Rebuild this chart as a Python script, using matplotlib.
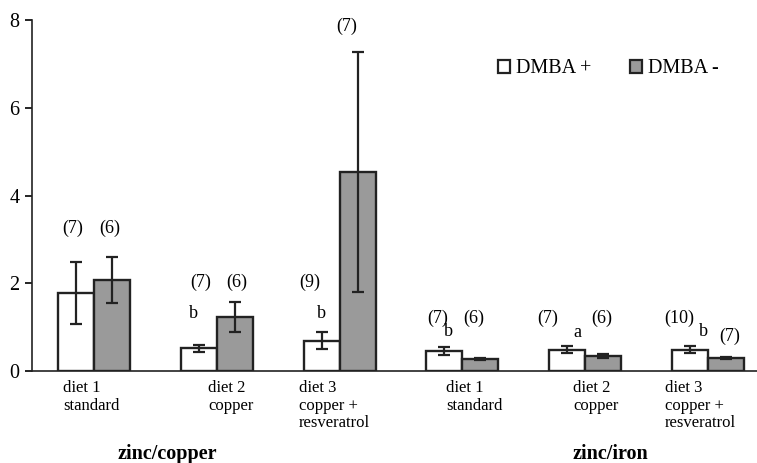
import numpy as np
import matplotlib
matplotlib.use('Agg')
import matplotlib.pyplot as plt
from matplotlib.patches import Patch

plt.rcParams['font.family'] = ['Liberation Serif', 'DejaVu Serif']

# data
diet_labels = ['diet 1\nstandard', 'diet 2\ncopper', 'diet 3\ncopper +\nresveratrol',
               'diet 1\nstandard', 'diet 2\ncopper', 'diet 3\ncopper +\nresveratrol']
groups = ['zinc/copper', 'zinc/iron']
dmba_plus = [1.77, 0.52, 0.69, 0.46, 0.49, 0.49]
dmba_plus_err = [0.71, 0.08, 0.19, 0.09, 0.09, 0.09]
dmba_minus = [2.07, 1.24, 4.53, 0.27, 0.34, 0.30]
dmba_minus_err = [0.52, 0.34, 2.74, 0.03, 0.05, 0.03]
n_plus = ['(7)', '(7)', '(9)', '(7)', '(7)', '(10)']
n_minus = ['(6)', '(6)', '(7)', '(6)', '(6)', '(7)']
letters = ['', 'b', 'b', 'b', 'a', 'b']

# layout of the annotations
n_plus_y = [3.26, 2.03, 2.03, 1.20, 1.20, 1.20]
n_minus_y = [3.26, 2.03, 7.86, 1.20, 1.20, 0.78]
letter_y = [0, 1.3, 1.3, 0.89, 0.87, 0.89]
n_plus_dx = [-0.025, 0.018, -0.094, -0.052, -0.156, -0.09]
n_minus_dx = [-0.016, 0.018, -0.086, -0.052, -0.01, 0.033]
letter_dx = [0, -0.047, 0.003, 0.037, 0.08, 0.114]
label_dx = [-0.252, -0.072, -0.331, -0.134, -0.099, -0.35]

x = np.arange(len(dmba_plus))
w = 0.293

fig = plt.figure(figsize=(7.57, 4.63), dpi=100)
ax = fig.add_axes([0.0423, 0.1987, 0.9577, 0.7581])

ekw = dict(ecolor='#222222', elinewidth=1.6, capsize=4.4, capthick=1.6)
ax.bar(x - w / 2, dmba_plus, w, color='white', edgecolor='#222222', linewidth=1.7,
       yerr=dmba_plus_err, error_kw=ekw)
ax.bar(x + w / 2, dmba_minus, w, color='#9a9a9a', edgecolor='#222222', linewidth=1.7,
       yerr=dmba_minus_err, error_kw=ekw)

for i in range(len(x)):
    ax.text(x[i] - w / 2 + n_plus_dx[i], n_plus_y[i], n_plus[i], ha='center', va='center', fontsize=13)
    ax.text(x[i] + w / 2 + n_minus_dx[i], n_minus_y[i], n_minus[i], ha='center', va='center', fontsize=13)
    if letters[i]:
        ax.text(x[i] - w / 2 + letter_dx[i], letter_y[i], letters[i], ha='center', va='center', fontsize=13)

ax.set_xlim(-0.505, 5.4)
ax.set_ylim(0, 8)
ax.set_yticks([0, 2, 4, 6, 8])
ax.set_xticks([])
ax.tick_params(axis='y', direction='out', length=5, width=1.2, labelsize=14.5, pad=4)
for s in ['top', 'right']:
    ax.spines[s].set_visible(False)
for s in ['left', 'bottom']:
    ax.spines[s].set_linewidth(1.2)
    ax.spines[s].set_color('#222222')

for i, lab in enumerate(diet_labels):
    ax.text(x[i] + label_dx[i], -0.2, lab, ha='left', va='top', fontsize=12,
            linespacing=1.15, clip_on=False)

ax.text(0.6, -1.89, groups[0], ha='center', va='center', fontsize=14.5, fontweight='bold', clip_on=False)
ax.text(4.21, -1.89, groups[1], ha='center', va='center', fontsize=14.5, fontweight='bold', clip_on=False)

handles = [Patch(facecolor='white', edgecolor='#222222', linewidth=1.6, label='DMBA +'),
           Patch(facecolor='#9a9a9a', edgecolor='#222222', linewidth=1.6, label='DMBA -')]
ax.legend(handles=handles, loc='center left', bbox_to_anchor=(0.643, 0.861), ncol=2, frameon=False,
          fontsize=14.5, handlelength=0.6, handleheight=0.6, handletextpad=0.3, columnspacing=1.9,
          borderpad=0, borderaxespad=0)

fig.savefig('out.png', dpi=100)
